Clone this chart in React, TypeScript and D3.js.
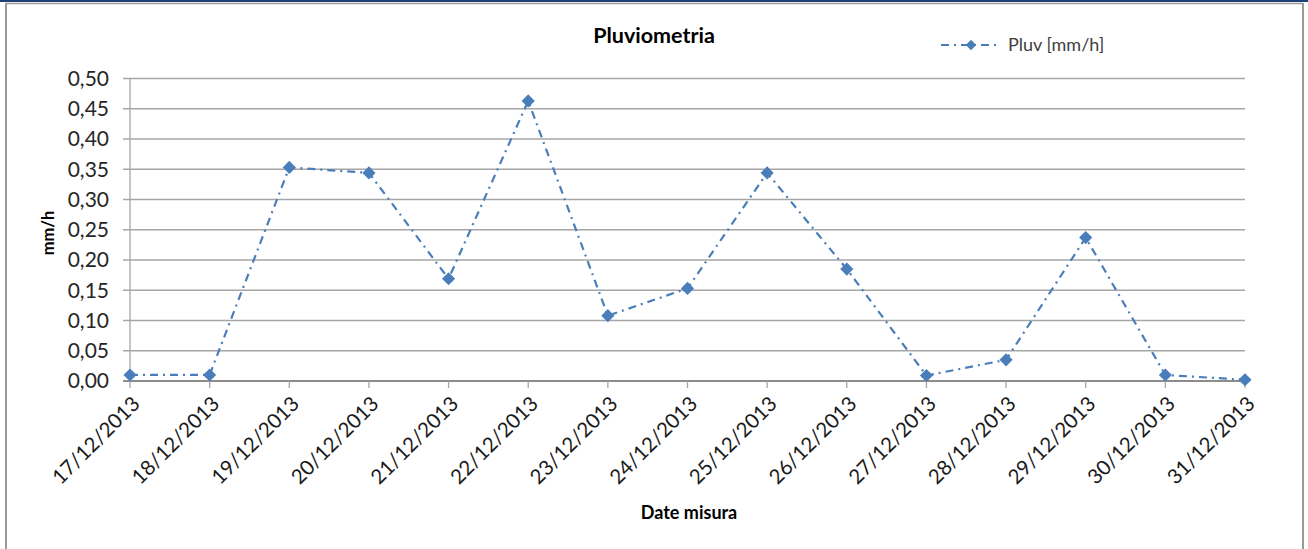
import React, { useRef, useEffect } from 'react';
import * as d3 from 'd3';

const dates = [
  '17/12/2013', '18/12/2013', '19/12/2013', '20/12/2013', '21/12/2013',
  '22/12/2013', '23/12/2013', '24/12/2013', '25/12/2013', '26/12/2013',
  '27/12/2013', '28/12/2013', '29/12/2013', '30/12/2013', '31/12/2013',
];
const pluv = [0.01, 0.01, 0.353, 0.344, 0.169, 0.463, 0.108, 0.153, 0.344, 0.185, 0.009, 0.035, 0.237, 0.01, 0.002];
const yTicks = [0, 0.05, 0.1, 0.15, 0.2, 0.25, 0.3, 0.35, 0.4, 0.45, 0.5];

const W = 1308;
const H = 549;
const FONT = 'Lato, "Open Sans", sans-serif';

export default function App() {
  const ref = useRef<SVGSVGElement>(null);

  useEffect(() => {
    document.body.style.margin = '0';
    const svg = d3.select(ref.current);
    svg.selectAll('*').remove();

    const left = 130, right = 1245, top = 78.5, bottom = 381;
    const blue = '#4a7ebb';

    // frame
    svg.append('rect').attr('x', 0).attr('y', 0).attr('width', W).attr('height', 2).attr('fill', '#1f3f77');
    svg.append('line').attr('x1', 6).attr('x2', 1303).attr('y1', 3.5).attr('y2', 3.5).attr('stroke', '#9a9a9a').attr('stroke-width', 1.5);
    svg.append('line').attr('x1', 6).attr('x2', 6).attr('y1', 3).attr('y2', H).attr('stroke', '#9a9a9a').attr('stroke-width', 2);
    svg.append('line').attr('x1', 1303).attr('x2', 1303).attr('y1', 3).attr('y2', H).attr('stroke', '#9a9a9a').attr('stroke-width', 2);

    const x = d3.scalePoint<string>().domain(dates).range([left, right]);
    const y = d3.scaleLinear().domain([0, 0.5]).range([bottom, top]);

    // gridlines + y labels
    const fmt = (v: number) => v.toFixed(2).replace('.', ',');
    const gy = svg.append('g');
    yTicks.forEach(t => {
      gy.append('line')
        .attr('x1', left - 7).attr('x2', right)
        .attr('y1', y(t)).attr('y2', y(t))
        .attr('stroke', t === 0 ? '#8c8c8c' : '#a6a6a6')
        .attr('stroke-width', t === 0 ? 2 : 1.3);
      gy.append('text')
        .attr('x', left - 21).attr('y', y(t))
        .attr('dy', '0.35em')
        .attr('text-anchor', 'end')
        .style('font-family', FONT).style('font-size', '21px').attr('fill', '#262626')
        .text(fmt(t));
    });
    // y axis line
    svg.append('line').attr('x1', left).attr('x2', left).attr('y1', top).attr('y2', bottom)
      .attr('stroke', '#a6a6a6').attr('stroke-width', 1.3);

    // x ticks and labels
    const gx = svg.append('g');
    dates.forEach(d => {
      gx.append('line').attr('x1', x(d)!).attr('x2', x(d)!).attr('y1', bottom).attr('y2', bottom + 7)
        .attr('stroke', '#a6a6a6').attr('stroke-width', 1.3);
      gx.append('text')
        .attr('transform', `translate(${x(d)! + 6},${bottom + 19}) rotate(-45)`)
        .attr('text-anchor', 'end')
        .attr('dy', '0.35em')
        .style('font-family', FONT).style('font-size', '20.5px').attr('fill', '#1a1a1a')
        .text(d);
    });

    // series line
    const line = d3.line<number>().x((_, i) => x(dates[i])!).y(v => y(v));
    svg.append('path').datum(pluv).attr('d', line)
      .attr('fill', 'none').attr('stroke', blue).attr('stroke-width', 2.2)
      .attr('stroke-dasharray', '8,5,2,5');

    const diamond = d3.symbol().type(d3.symbolDiamond2).size(110);
    svg.append('g').selectAll('path').data(pluv).join('path')
      .attr('d', diamond)
      .attr('transform', (v, i) => `translate(${x(dates[i])},${y(v)})`)
      .attr('fill', blue);

    // title
    svg.append('text').attr('x', 654).attr('y', 43).attr('text-anchor', 'middle')
      .style('font-family', FONT).style('font-size', '21.5px').style('font-weight', 'bold').attr('fill', '#000')
      .text('Pluviometria');

    // axis titles
    svg.append('text').attr('transform', `translate(54,233) rotate(-90)`).attr('text-anchor', 'middle')
      .style('font-family', FONT).style('font-size', '16.5px').style('font-weight', 'bold').attr('fill', '#000')
      .text('mm/h');
    svg.append('text').attr('x', 689).attr('y', 519).attr('text-anchor', 'middle')
      .style('font-family', FONT).style('font-size', '18px').style('font-weight', 'bold').attr('fill', '#000')
      .text('Date misura');

    // legend
    const lg = svg.append('g').attr('transform', 'translate(941,45)');
    lg.append('line').attr('x1', 0).attr('x2', 59).attr('y1', 0).attr('y2', 0)
      .attr('stroke', blue).attr('stroke-width', 2.2).attr('stroke-dasharray', '8,5,2,5');
    lg.append('path').attr('d', d3.symbol().type(d3.symbolDiamond2).size(70)()).attr('transform', 'translate(30,0)').attr('fill', blue);
    lg.append('text').attr('x', 67).attr('y', 0).attr('dy', '0.35em')
      .style('font-family', FONT).style('font-size', '18px').attr('fill', '#404040')
      .text('Pluv [mm/h]');
  }, []);

  return <svg ref={ref} width={W} height={H} style={{ display: 'block', background: '#fff' }} />;
}
